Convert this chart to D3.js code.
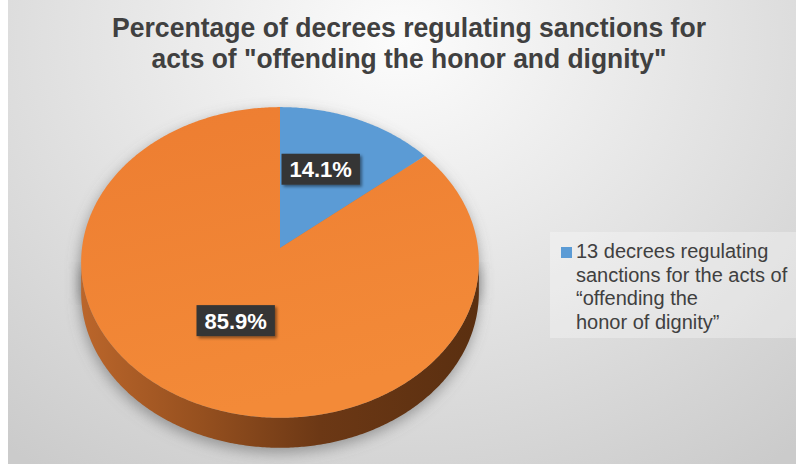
<!DOCTYPE html>
<html>
<head>
<meta charset="utf-8">
<script src="https://cdn.jsdelivr.net/npm/d3@7/dist/d3.min.js"></script>
<style>
  html, body { margin: 0; padding: 0; background: #ffffff; }
  svg { display: block; font-family: "Liberation Sans", Arial, sans-serif; }
</style>
</head>
<body>
<svg id="chart" width="796" height="464"></svg>
<script>
// ---- data ----
const categories = [
  "13 decrees regulating sanctions for the acts of “offending the honor of dignity”",
  "Other decrees"
];
const shares = [14.1, 85.9];
const legendLines = ["13 decrees regulating", "sanctions for the acts of", "“offending the", "honor of dignity”"];
const titleLines = [
  "Percentage of decrees regulating sanctions for",
  "acts of \"offending the honor and dignity\""
];

// ---- styles ----
const topColors = ["#5b9bd5", "#ef8133"];
const W = 796, H = 464;

const svg = d3.select("#chart");
const defs = svg.append("defs");

// background gradient
const bg = defs.append("radialGradient").attr("id", "bgGrad")
  .attr("gradientUnits", "userSpaceOnUse")
  .attr("cx", 400).attr("cy", 40).attr("r", 620)
  .attr("gradientTransform", "translate(400,40) scale(1,0.85) translate(-400,-40)");
bg.append("stop").attr("offset", 0).attr("stop-color", "#fcfcfc");
bg.append("stop").attr("offset", 0.35).attr("stop-color", "#ebebeb");
bg.append("stop").attr("offset", 1).attr("stop-color", "#cbcbcb");

const sideGrad = defs.append("linearGradient").attr("id", "sideGrad")
  .attr("gradientUnits", "userSpaceOnUse")
  .attr("x1", 80).attr("y1", 0).attr("x2", 480).attr("y2", 0);
sideGrad.append("stop").attr("offset", 0).attr("stop-color", "#bb662b");
sideGrad.append("stop").attr("offset", 0.3).attr("stop-color", "#96501f");
sideGrad.append("stop").attr("offset", 0.6).attr("stop-color", "#6c3815");
sideGrad.append("stop").attr("offset", 1).attr("stop-color", "#5a2f10");

const topGrad = defs.append("linearGradient").attr("id", "topGrad")
  .attr("x1", 0).attr("y1", 0).attr("x2", 0.3).attr("y2", 1);
topGrad.append("stop").attr("offset", 0).attr("stop-color", "#ed7d31");
topGrad.append("stop").attr("offset", 1).attr("stop-color", "#f38a38");

const blur = defs.append("filter").attr("id", "pieShadow")
  .attr("x", "-20%").attr("y", "-20%").attr("width", "140%").attr("height", "140%");
blur.append("feGaussianBlur").attr("stdDeviation", 7);

const boxShadow = defs.append("filter").attr("id", "boxShadow")
  .attr("x", "-30%").attr("y", "-40%").attr("width", "160%").attr("height", "180%");
boxShadow.append("feDropShadow").attr("dx", 2).attr("dy", 2)
  .attr("stdDeviation", 1.8).attr("flood-color", "#000").attr("flood-opacity", 0.45);

// background
svg.append("rect").attr("width", W).attr("height", H).attr("fill", "#ffffff");
svg.append("rect").attr("x", 8).attr("y", 0).attr("width", W - 8).attr("height", H)
  .attr("fill", "url(#bgGrad)");

// ---- 3D pie geometry (perspective-projected disc) ----
const cx = 280, cy = 248;   // projected centre of the disc
const a = 198, b = 154;     // horizontal / vertical radii
const k = 0.093;            // perspective strength
const depth = 30;           // thickness of the disc

function proj(theta, f, dz) {
  const u = f * Math.sin(theta), v = -f * Math.cos(theta);
  const w = 1 - k * v;
  return [cx + a * u / w, cy + b * v / w + (dz || 0)];
}

const pie = d3.pie().sort(null).value(d => d).startAngle(0).endAngle(2 * Math.PI);
const arcs = pie(shares);

function arcPoints(a0, a1, dz) {
  const n = Math.max(2, Math.ceil(Math.abs(a1 - a0) / 0.01));
  return d3.range(n + 1).map(i => proj(a0 + (a1 - a0) * i / n, 1, dz));
}
const line = d3.line();

// soft shadow beneath the disc
const full = arcPoints(0, 2 * Math.PI, 0);
const fullBottom = arcPoints(0, 2 * Math.PI, depth);
svg.append("g").attr("filter", "url(#pieShadow)").attr("transform", "translate(-1,5)")
  .selectAll("path").data([full, fullBottom]).join("path")
  .attr("d", d => line(d) + "Z")
  .attr("fill", "#6a6a6a").attr("fill-opacity", 0.6);
svg.append("path")
  .attr("d", line([proj(Math.PI / 2 + 0.1, 1, 5), proj(3 * Math.PI / 2 - 0.1, 1, 5), proj(3 * Math.PI / 2 - 0.1, 1, depth + 5), proj(Math.PI / 2 + 0.1, 1, depth + 5)]) + "Z")
  .attr("fill", "#6a6a6a").attr("fill-opacity", 0.6).attr("filter", "url(#pieShadow)");

// visible front wall
const frontStart = Math.acos(-k), frontEnd = 2 * Math.PI - Math.acos(-k);
const sides = svg.append("g");
arcs.forEach((d, i) => {
  const s = Math.max(d.startAngle, frontStart), e = Math.min(d.endAngle, frontEnd);
  if (e <= s) return;
  const topPts = arcPoints(s, e, 0);
  const botPts = arcPoints(e, s, depth);
  sides.append("path")
    .attr("d", line(topPts.concat(botPts)) + "Z")
    .attr("fill", i === 1 ? "url(#sideGrad)" : "#3f6f9c");
});

// top faces
svg.append("g").selectAll("path").data(arcs).join("path")
  .attr("d", d => line([[cx, cy]].concat(arcPoints(d.startAngle, d.endAngle, 0))) + "Z")
  .attr("fill", (d, i) => i === 1 ? "url(#topGrad)" : topColors[i]);

// data labels
const fmt = d3.format(".1f");
const labelNudge = [[0, -12], [0, 0]];
const labels = svg.append("g").selectAll("g").data(arcs).join("g")
  .attr("transform", (d, i) => {
    const p = proj((d.startAngle + d.endAngle) / 2, 0.5, 0);
    return `translate(${p[0] + labelNudge[i][0]},${p[1] + labelNudge[i][1]})`;
  });
labels.append("rect").attr("class", "box")
  .attr("fill", "#363636").attr("filter", "url(#boxShadow)");
labels.append("text")
  .attr("text-anchor", "middle").attr("dy", 8)
  .attr("fill", "#ffffff").attr("font-weight", "bold").attr("font-size", 22)
  .text(d => fmt(d.data) + "%");
labels.each(function () {
  const g = d3.select(this);
  const tw = g.select("text").node().getComputedTextLength();
  g.select("rect").attr("x", -tw / 2 - 8).attr("y", -15.5)
    .attr("width", tw + 16).attr("height", 31);
});

// legend
const legend = svg.append("g");
legend.append("rect").attr("x", 550).attr("y", 232).attr("width", 246).attr("height", 106)
  .attr("fill", "#ffffff").attr("fill-opacity", 0.3);
legend.append("rect").attr("x", 561).attr("y", 247).attr("width", 11).attr("height", 11)
  .attr("fill", topColors[0]);
legend.append("text").attr("x", 577).attr("y", 258)
  .attr("font-size", 20).attr("fill", "#404040")
  .selectAll("tspan").data(legendLines).join("tspan")
  .attr("x", 576).attr("dy", (d, i) => i === 0 ? 0 : 23.7)
  .text(d => d);

// title
const titleWidths = [594, 515];
svg.append("g").selectAll("text").data(titleLines).join("text")
  .attr("x", 409).attr("y", (d, i) => 37 + i * 31)
  .attr("text-anchor", "middle")
  .attr("font-size", 28).attr("font-weight", "bold").attr("fill", "#404040")
  .attr("textLength", (d, i) => titleWidths[i]).attr("lengthAdjust", "spacingAndGlyphs")
  .text(d => d);
</script>
</body>
</html>
